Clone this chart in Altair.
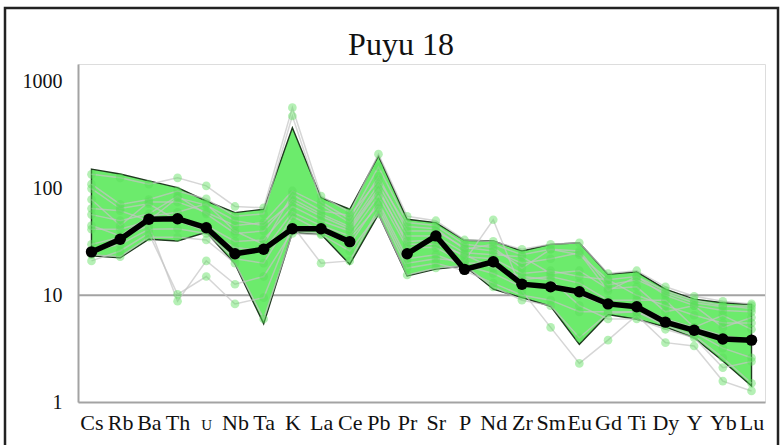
import altair as alt
import pandas as pd

# Primitive-mantle normalised trace-element pattern, Puyu 18
ELEMENTS = ["Cs", "Rb", "Ba", "Th", "U", "Nb", "Ta", "K", "La", "Ce", "Pb", "Pr",
            "Sr", "P", "Nd", "Zr", "Sm", "Eu", "Gd", "Ti", "Dy", "Y", "Yb", "Lu"]

# envelope of the field
UPPER = [152, 137, 118, 102, 76.5, 59.5, 64, 372, 82, 64, 202, 51.6,
         48, 32.8, 32.3, 26, 30, 31.1, 15.7, 16.6, 11.4, 9.2, 8.5, 8.2]
LOWER = [23.4, 22.5, 33.5, 32.3, 39, 19.7, 5.4, 38.6, 37.3, 19.5, 57.4, 15.2,
         17.6, 18.8, 11.4, 9.5, 7.9, 3.47, 6.6, 5.96, 5.05, 4.0, 2.42, 1.41]

# median pattern (no Pb value)
MEDIAN = [25.5, 33.5, 51.6, 52.2, 43, 24.5, 27, 42, 42, 31.8, None, 24.5,
          36, 17.5, 20.6, 12.7, 12, 10.8, 8.3, 7.8, 5.6, 4.7, 3.9, 3.8]

# individual samples
SAMPLES = [
    [136, 126, 110, 126, 106, 68, 66, 573, 85, 60, 210, 55, 50, 33, 32, 27, 30, 31, 16, 17, 12, 9.8, 8.8, 8.3],
    [110, 71, 79, 95, 80, 55, 58, 479, 75, 52, 160, 48, 45, 30, 28, 18, 27, 24, 14, 15, 11, 9, 8, 7.5],
    [79, 45, 75, 75, 60, 45, 48, 95, 70, 48, 130, 40, 40, 28, 26, 20, 22, 25, 11, 15, 10, 8, 7.2, 7],
    [57, 50, 58, 85, 58, 38, 40, 80, 58, 44, 110, 36, 36, 25, 24, 23, 16, 17, 11.5, 12, 7, 8, 5, 6.2],
    [41.6, 41.6, 49.6, 52, 45, 32, 33, 68, 50, 40, 95, 32, 33, 23, 22, 16, 17, 15, 14, 10, 8, 6.5, 5.5, 5.5],
    [100, 65, 72, 50, 40, 28, 26, 60, 45, 36, 85, 28, 28, 20, 20, 14, 15, 13, 9, 9, 9, 5, 6.5, 4.8],
    [26, 30, 41.6, 42, 38, 22, 20, 55, 40, 30, 75, 22, 24, 19, 16, 12, 12, 10, 8, 8, 6, 5, 4.2, 3.8],
    [21, 26, 38, 10.2, 15, 8.3, 9.5, 45, 20, 21, 65, 18, 20, 17, 13, 10, 9, 7, 7, 7, 5.5, 4.5, 3.2, 2.6],
    [30, 35, 45, 8.8, 21, 12.7, 15, 40, 38, 34, 70, 20, 22, 21, 51, 11, 5, 2.3, 3.8, 6.5, 3.6, 3.35, 1.57, 1.27],
    [45, 36, 55, 60, 72, 40, 30, 88, 62, 56, 120, 44, 42, 27, 30, 24, 27, 26, 12.5, 14, 10.5, 8.5, 7.8, 8],
    [65, 62, 50, 82, 70, 50, 45, 75, 55, 42, 100, 30, 30, 24, 18, 15, 14, 8, 6, 6, 4.8, 4, 2.1, 2.4],
    [24, 23, 35, 35, 33, 20, 6, 38, 37, 26, 58, 15.5, 18, 19, 12, 9, 8, 4, 6.8, 7, 5.2, 4.2, 2.6, 1.5],
]

TITLE = "Puyu 18"
SERIF = "Liberation Serif"

band = pd.DataFrame({"el": ELEMENTS, "hi": UPPER, "lo": LOWER})

samples = pd.DataFrame(
    [{"sample": i, "el": e, "v": v}
     for i, row in enumerate(SAMPLES) for e, v in zip(ELEMENTS, row)]
)

# median split into two segments around the missing Pb
med_rows = []
seg = 0
for e, v in zip(ELEMENTS, MEDIAN):
    if v is None:
        seg += 1
        continue
    med_rows.append({"el": e, "v": v, "seg": seg})
median = pd.DataFrame(med_rows)

x_enc = alt.X(
    "el:N",
    sort=ELEMENTS,
    scale=alt.Scale(type="point", domain=ELEMENTS, padding=0.47),
    axis=alt.Axis(
        title=None, labelAngle=0, ticks=False, grid=False,
        domainColor="#a3a3a3", domainWidth=2,
        labelFont=SERIF, labelFontSize=alt.expr("datum.value == 'U' ? 15 : 22"),
        labelColor="#111111", labelBaseline="alphabetic", labelPadding=27,
    ),
)

y_scale = alt.Scale(type="log", domain=[1, 1470])
y_axis = alt.Axis(
    title=None, values=[1, 10, 100, 1000], format="d", ticks=False, grid=False,
    domainColor="#a3a3a3", domainWidth=2,
    labelFont=SERIF, labelFontSize=20, labelColor="#111111", labelPadding=16,
)

area = alt.Chart(band).mark_area(
    color="#6ceb6c", opacity=1, stroke="#1f3a1f", strokeWidth=1.4
).encode(
    x=x_enc,
    y=alt.Y("hi:Q", scale=y_scale, axis=y_axis),
    y2="lo:Q",
)

grid10 = alt.Chart(pd.DataFrame({"v": [10]})).mark_rule(
    color="#a3a3a3", strokeWidth=2
).encode(y=alt.Y("v:Q", scale=y_scale, axis=y_axis))

sample_lines = alt.Chart(samples).mark_line(
    color="#c4c4c4", strokeWidth=1.5, opacity=0.7
).encode(
    x=x_enc,
    y=alt.Y("v:Q", scale=y_scale, axis=y_axis),
    detail="sample:N",
)

sample_pts = alt.Chart(samples).mark_circle(
    color="#5ade5a", size=75, opacity=0.45
).encode(
    x=x_enc,
    y=alt.Y("v:Q", scale=y_scale, axis=y_axis),
)

median_line = alt.Chart(median).mark_line(
    color="black", strokeWidth=5.5
).encode(
    x=x_enc,
    y=alt.Y("v:Q", scale=y_scale, axis=y_axis),
    detail="seg:N",
)

median_pts = alt.Chart(median).mark_circle(
    color="black", size=130, opacity=1
).encode(
    x=x_enc,
    y=alt.Y("v:Q", scale=y_scale, axis=y_axis),
)

# chart heading, centred on the figure
heading = alt.Chart(pd.DataFrame({"t": [TITLE]})).mark_text(
    font=SERIF, fontSize=32, color="#111111", align="center", baseline="alphabetic"
).encode(
    text="t:N", x=alt.value(323), y=alt.value(-9),
)

# outer frame around the whole figure
frame = alt.Chart(pd.DataFrame({"a": [0]})).mark_rect(
    filled=False, stroke="#222222", strokeWidth=2.5
).encode(
    x=alt.value(-73), x2=alt.value(700),
    y=alt.value(-56), y2=alt.value(395),
)

chart = alt.layer(
    grid10, area, sample_lines, sample_pts, median_line, median_pts, heading, frame
).properties(
    width=687,
    height=338,
    autosize=alt.AutoSizeParams(type="none"),
    padding={"left": 78, "top": 64, "right": 15, "bottom": 43},
).configure_view(
    stroke=None
).configure(
    background="white"
)

chart.save("out.html", embed_options={"renderer": "svg", "actions": False})
